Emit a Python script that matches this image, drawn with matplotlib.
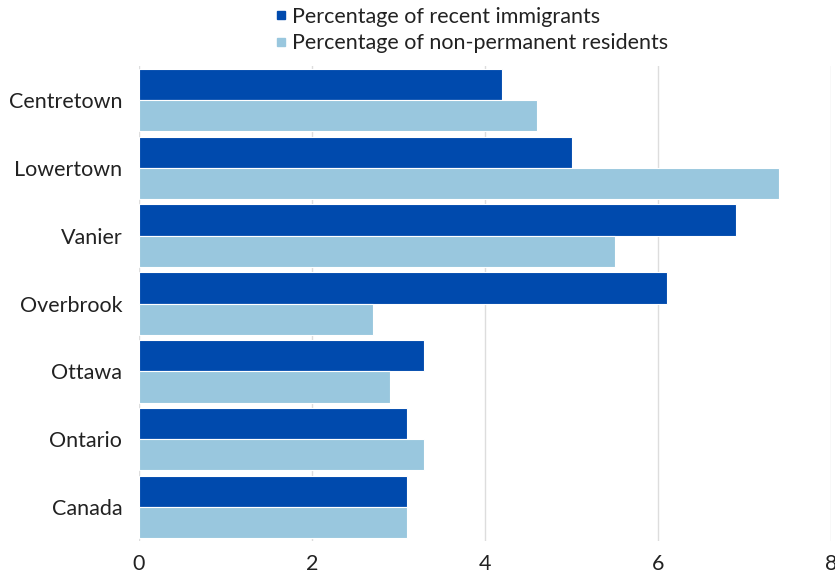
import matplotlib.pyplot as plt
from matplotlib.lines import Line2D
import numpy as np

plt.rcParams['font.family'] = ['Lato', 'DejaVu Sans']

areas = ['Centretown', 'Lowertown', 'Vanier', 'Overbrook', 'Ottawa', 'Ontario', 'Canada']
recent_immigrants = [4.2, 5.0, 6.9, 6.1, 3.3, 3.1, 3.1]
non_permanent = [4.6, 7.4, 5.5, 2.7, 2.9, 3.3, 3.1]
xticks = [0, 2, 4, 6, 8]

dark = '#004aad'
light = '#99c7de'

fig = plt.figure(figsize=(8.35, 5.73), dpi=100)
ax = fig.add_axes([139 / 835, 1 - 541 / 573, (831 - 139) / 835, (541 - 66) / 573])

y = np.arange(len(areas))
h = 0.46
ax.barh(y - h / 2, recent_immigrants, height=h, color=dark, edgecolor='white', linewidth=0.8, zorder=3)
ax.barh(y + h / 2, non_permanent, height=h, color=light, edgecolor='white', linewidth=0.8, zorder=3)

ax.set_xlim(0, 8)
ax.set_ylim(len(areas) - 0.5, -0.5)
ax.set_xticks(xticks)
ax.set_xticklabels([str(t) for t in xticks])
ax.set_yticks(y)
ax.set_yticklabels(areas)
ax.tick_params(axis='both', length=0, labelsize=15.5, colors='#222222')
ax.tick_params(axis='x', pad=9)
ax.tick_params(axis='y', pad=12)
ax.grid(axis='x', color='#dddddd', linewidth=1, zorder=0)
for s in ax.spines.values():
    s.set_visible(False)

handles = [Line2D([], [], marker='s', linestyle='none', color=dark, markersize=6),
           Line2D([], [], marker='s', linestyle='none', color=light, markersize=6)]
fig.legend(handles, ['Percentage of recent immigrants', 'Percentage of non-permanent residents'],
           loc='upper left', bbox_to_anchor=(251 / 835, 1.022), frameon=False, fontsize=15.5,
           handletextpad=0.0, labelspacing=0.3, handlelength=1.0, labelcolor='#222222')

fig.savefig('out.png', dpi=100)
